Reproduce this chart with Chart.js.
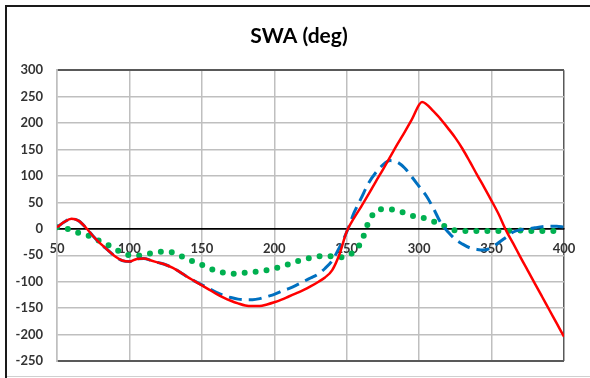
<!DOCTYPE html>
<html>
<head>
<meta charset="utf-8">
<script src="https://cdn.jsdelivr.net/npm/chart.js@4/dist/chart.umd.min.js"></script>
<style>
  html, body { margin: 0; padding: 0; background: #fff; }
  canvas { display: block; }
</style>
</head>
<body>
<canvas id="swa" width="590" height="378"></canvas>
<script>
// Steering wheel angle traces (deg) against distance
const xSteps = [50,55,60,65,70,75,80,85,90,95,100,105,110,115,120,125,130,135,140,145,
  150,155,160,165,170,175,180,185,190,195,200,205,210,215,220,225,230,235,240,245,
  250,255,260,265,270,275,280,285,290,295,300,305,310,315,320,325,330,335,340,345,
  350,355,360,365,370,375,380,385,390,395,400];

const redX = [50,55,60,65,70,75,80,85,90,95,100,105,110,115,120,125,130,135,140,145,
  150,155,160,165,170,175,180,185,190,195,200,205,210,215,220,225,230,235,240,245,
  250,255,260,265,270,275,280,285,290,295,302,310,315,320,325,330,335,340,345,
  350,355,360,365,370,375,380,385,390,395,400];
const redY = [3,13,19,15,2,-14,-28,-40,-52,-60,-62,-57,-56,-60,-64,-68,-74,-82,-91,-99,
  -107,-115,-123,-130,-136,-141,-145,-146,-146,-143,-139,-134,-128,-122,-116,-109,-101,-92,-78,-48,
  -5,20,42,65,89,112,136,160,183,207,240,222,207,190,172,151,127,102,78,
  53,27,-3,-28,-54,-79,-104,-129,-154,-179,-204];

const blueY = [3,13,19,15,2,-14,-28,-40,-52,-60,-62,-57,-56,-60,-64,-68,-74,-82,-91,-99,
  -106,-113,-120,-126,-130,-133,-134,-134,-132,-128,-124,-118,-113,-107,-100,-93,-86,-75,-60,-35,
  -6,30,58,86,106,121,129,126,115,98,80,62,38,11,-6,-20,-29,-36,-39,-40,
  -35,-26,-16,-6,-2,0,2,4,5,5,3];

const greenY = [3,1,-2,-8,-11,-17,-24,-30,-38,-45,-50,-51,-49,-46,-44,-43,-45,-51,-57,-63,
  -68,-74,-80,-83,-85,-84,-83,-82,-80,-78,-75,-72,-67,-62,-58,-55,-52,-52,-52,-54,
  -52,-43,-25,12,33,37,37,34,30,25,22,19,14,8,2,-3,-4,-4,-4,-4,
  -4,-4,-4,-3,-3,-4,-4,-4,-4,-4,-5];

const yTicks = { min: -250, max: 300, step: 50 };
const xTicks = { min: 50, max: 400, step: 50 };

const pairs = (xs, ys) => xs.map((x, i) => ({ x: x, y: ys[i] }));

// outer frame of the chart object
const framePlugin = {
  id: 'frame',
  beforeDraw(chart) {
    const c = chart.ctx;
    c.save();
    c.fillStyle = '#ffffff';
    c.fillRect(0, 0, chart.width, chart.height);
    c.fillStyle = '#1a1a1a';
    c.fillRect(5, 5, chart.width - 5, 2);
    c.fillRect(5, 5, 2, chart.height - 5);
    c.fillStyle = '#d0d0d0';
    c.fillRect(7, 376, chart.width - 7, 1);
    c.restore();
  }
};

const tickFont = { family: 'Lato', size: 13, weight: 'bold' };

new Chart(document.getElementById('swa'), {
  type: 'line',
  data: {
    datasets: [
      {
        label: 'Red',
        data: pairs(redX, redY),
        borderColor: '#ff0000',
        borderWidth: 2.5,
        pointRadius: 0,
        cubicInterpolationMode: 'monotone'
      },
      {
        label: 'Blue',
        data: pairs(xSteps, blueY),
        borderColor: '#0070c0',
        borderWidth: 3,
        borderDash: [13, 7],
        pointRadius: 0,
        cubicInterpolationMode: 'monotone'
      },
      {
        label: 'Green',
        data: pairs(xSteps, greenY),
        borderColor: '#00b050',
        borderWidth: 6,
        borderDash: [0, 11],
        borderCapStyle: 'round',
        pointRadius: 0,
        cubicInterpolationMode: 'monotone'
      }
    ]
  },
  options: {
    responsive: false,
    animation: false,
    layout: { padding: { left: 8, right: 0, top: 0, bottom: 17 } },
    plugins: {
      legend: { display: false },
      tooltip: { enabled: false },
      title: {
        display: true,
        text: 'SWA (deg)',
        color: '#000000',
        font: { family: 'Lato', size: 21, weight: 'bold' },
        padding: { top: 24, bottom: 21 }
      }
    },
    scales: {
      x: {
        type: 'linear',
        position: { y: 0 },
        min: xTicks.min,
        max: xTicks.max,
        // the axis sits on the zero line, so it takes no room below the plot
        afterFit: (s) => { s.height = 0; },
        ticks: {
          stepSize: xTicks.step,
          color: '#333333',
          font: tickFont,
          padding: 12,
          maxRotation: 0
        },
        grid: {
          drawTicks: false,
          lineWidth: 1.5,
          color: (ctx) => (ctx.tick && ctx.tick.value === xTicks.max) ? '#595959' : '#bfbfbf'
        },
        border: { display: true, color: '#000000', width: 1.5 }
      },
      y: {
        min: yTicks.min,
        max: yTicks.max,
        afterFit: (s) => {
          s.width = 49;
          s.paddingTop = 8;
          s.paddingBottom = 8;
        },
        ticks: {
          stepSize: yTicks.step,
          color: '#333333',
          font: tickFont,
          padding: 14
        },
        grid: {
          drawTicks: false,
          lineWidth: (ctx) => (ctx.tick && (ctx.tick.value === yTicks.max || ctx.tick.value === yTicks.min)) ? 2 : 1.5,
          color: (ctx) => {
            const v = ctx.tick ? ctx.tick.value : null;
            if (v === 0) return '#000000';
            if (v === yTicks.max || v === yTicks.min) return '#595959';
            return '#bfbfbf';
          }
        },
        border: { display: true, color: '#bfbfbf', width: 1.5 }
      },
      // empty right-hand strip that keeps the plot clear of the frame edge
      yRight: {
        position: 'right',
        display: true,
        afterFit: (s) => {
          s.width = 26;
          s.paddingTop = 0;
          s.paddingBottom = 0;
        },
        ticks: { display: false },
        grid: { display: false, drawOnChartArea: false },
        border: { display: false }
      }
    }
  },
  plugins: [framePlugin]
});
</script>
</body>
</html>
